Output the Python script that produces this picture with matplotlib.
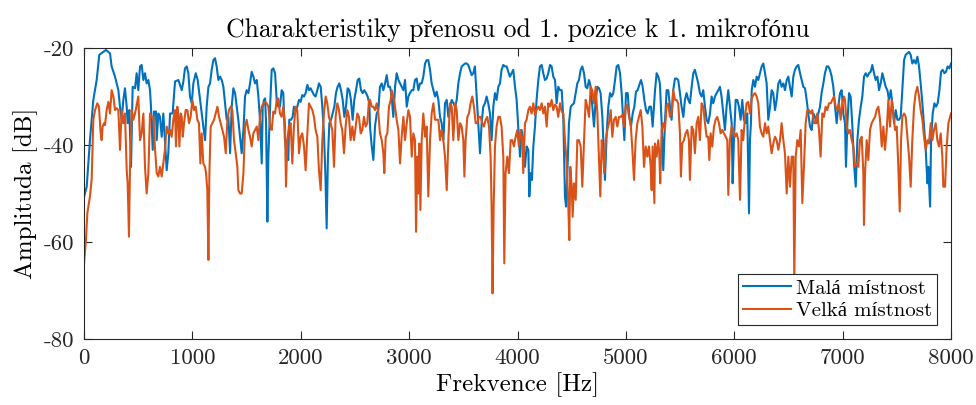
import matplotlib
matplotlib.use("Agg")
import matplotlib.pyplot as plt

# ---- data ----
freq_mala = [
    0, 25, 55, 86, 117, 141, 178, 203, 240, 255, 286, 317, 332, 348, 363, 378, 394, 403, 418, 434,
    449, 471, 486, 501, 517, 532, 548, 563, 578, 594, 609, 618, 634, 646, 664, 671, 686, 701, 717, 732,
    747, 763, 778, 794, 818, 840,
    871, 886, 902, 917, 932, 948, 963, 978, 994, 1009, 1031, 1049, 1071, 1086, 1101, 1117, 1132, 1148,
    1163, 1178, 1194, 1209, 1224, 1240, 1255, 1271, 1286, 1301, 1317, 1332, 1348, 1363, 1378, 1394, 1409,
    1424, 1440, 1455, 1471, 1486, 1501, 1517, 1532, 1547, 1563, 1578, 1594, 1609, 1624, 1640, 1649, 1661,
    1671, 1680, 1692, 1701, 1717, 1732, 1747, 1763,
    1778, 1793, 1808, 1824, 1839, 1854, 1870, 1885, 1894, 1910, 1925, 1937, 1953, 1968, 1984, 1999, 2014,
    2030, 2045, 2061, 2076, 2091, 2107, 2122, 2137, 2153, 2168, 2184, 2199, 2214, 2227, 2239, 2251, 2264,
    2279, 2294, 2310, 2325, 2340, 2356, 2371, 2387, 2402, 2417, 2433, 2448, 2463, 2479, 2494, 2510, 2525,
    2540, 2556, 2571, 2586, 2602, 2617, 2633,
    2639, 2655, 2670, 2685, 2701, 2716, 2731, 2747, 2762, 2778, 2793, 2808, 2824, 2839, 2854, 2870, 2885,
    2901, 2916, 2931, 2947, 2962, 2978, 2993, 3008, 3024, 3039, 3054, 3070, 3085, 3101, 3116, 3131, 3147,
    3162, 3177, 3193, 3208, 3224, 3239, 3254, 3270, 3285, 3300, 3316, 3331, 3347, 3362, 3377, 3393, 3408,
    3424, 3439, 3454, 3470, 3485, 3500, 3516,
    3531, 3546, 3561, 3577, 3592, 3607, 3623, 3638, 3654, 3669, 3684, 3700, 3715, 3730, 3746, 3761, 3777,
    3792, 3807, 3823, 3838, 3853, 3869, 3884, 3900, 3915, 3930, 3946, 3961, 3977, 3992, 4007, 4023, 4038,
    4053, 4069, 4084, 4100, 4109, 4121, 4133, 4146, 4161, 4176, 4192, 4207, 4223, 4238, 4253, 4269, 4284,
    4300, 4315, 4330, 4346, 4361, 4376, 4392,
    4408, 4423, 4438, 4448, 4460, 4475, 4491, 4506, 4521, 4537, 4552, 4567, 4583, 4598, 4614, 4629, 4644,
    4660, 4675, 4690, 4706, 4721, 4737, 4752, 4767, 4783, 4798, 4807, 4823, 4838, 4854, 4869, 4884, 4900,
    4915, 4930, 4946, 4961, 4977, 4986, 5001, 5017, 5032, 5047, 5063, 5078, 5093, 5109, 5124, 5140, 5155,
    5170, 5186, 5201, 5217, 5232, 5247, 5269,
    5284, 5299, 5314, 5330, 5345, 5360, 5376, 5391, 5407, 5422, 5437, 5453, 5468, 5483, 5499, 5514, 5530,
    5545, 5560, 5576, 5591, 5607, 5622, 5637, 5653, 5668, 5683, 5699, 5714, 5730, 5745, 5760, 5776, 5791,
    5806, 5822, 5837, 5853, 5868, 5883, 5899, 5914, 5929, 5945, 5960, 5976, 5985, 5997, 6013, 6028, 6043,
    6059, 6074, 6089, 6105, 6120, 6136, 6145,
    6154, 6161, 6176, 6191, 6207, 6222, 6237, 6253, 6268, 6284, 6299, 6314, 6330, 6345, 6360, 6376, 6391,
    6407, 6422, 6437, 6453, 6468, 6484, 6499, 6514, 6530, 6545, 6560, 6576, 6591, 6607, 6622, 6637, 6653,
    6668, 6683, 6699, 6714, 6730, 6745, 6760, 6776, 6791, 6806, 6822, 6837, 6853, 6868, 6883, 6899, 6914,
    6930, 6945, 6960, 6976, 6991, 7006, 7022,
    7031, 7044, 7059, 7074, 7090, 7105, 7121, 7136, 7151, 7167, 7182, 7197, 7213, 7228, 7244, 7259, 7274,
    7290, 7305, 7321, 7336, 7351, 7367, 7382, 7397, 7413, 7428, 7444, 7459, 7474, 7490, 7505, 7520, 7536,
    7551, 7567, 7582, 7597, 7613, 7628, 7643, 7659, 7674, 7690, 7705, 7720, 7736, 7751, 7767, 7782, 7791,
    7807, 7816, 7831, 7847, 7862, 7877, 7893, 7908, 7923, 7939, 7954, 7969, 7985, 8000,
]
amp_mala = [
    -50.7, -48.6, -39.0, -30.7, -26.6, -21.4, -20.8, -20.4, -21.1, -23.8, -25.9, -28.7, -32.1, -34.8, -30.7, -28.3, -32.1, -35.5, -32.8, -44.5,
    -28.0, -28.3, -25.2, -28.7, -23.8, -23.5, -26.6, -25.2, -27.3, -26.6, -28.7, -32.1, -41.0, -33.1, -33.1, -39.0, -33.5, -34.2, -38.3, -33.5,
    -39.0, -45.2, -41.7, -33.5, -33.5, -26.9,
    -26.6, -27.6, -28.7, -26.9, -24.2, -23.8, -25.2, -30.0, -31.4, -27.3, -25.2, -26.6, -30.7, -33.5, -36.2, -39.0, -32.1, -28.0,
    -27.3, -24.5, -22.5, -22.1, -23.8, -26.6, -25.9, -26.6, -28.0, -31.4, -34.8, -34.2, -41.7, -32.1, -28.3, -29.3, -32.1,
    -34.8, -38.3, -41.7, -36.9, -30.0, -28.7, -29.3, -27.3, -24.9, -25.9, -27.3, -26.6, -30.0, -34.8, -43.8, -32.1, -30.7,
    -30.4, -35.5, -55.8, -42.4, -32.1, -24.5, -24.2, -25.2,
    -30.7, -32.1, -32.1, -28.7, -29.3, -39.0, -41.7, -43.1, -34.8, -34.8, -34.2, -32.1, -32.8, -32.1, -30.7, -31.1, -29.7,
    -30.0, -29.3, -27.6, -28.7, -28.3, -29.0, -29.7, -30.0, -28.7, -27.3, -28.0, -32.1, -37.6, -45.8, -57.2, -42.4, -35.5,
    -34.8, -33.5, -32.1, -29.3, -28.0, -27.3, -28.7, -30.7, -34.2, -32.1, -28.3, -28.7, -30.7, -34.8, -30.7, -28.7, -26.6,
    -26.3, -28.7, -29.3, -28.7, -29.3, -30.0, -31.4,
    -36.2, -40.3, -43.1, -36.2, -33.5, -32.8, -28.0, -27.3, -28.7, -27.3, -25.6, -28.0, -28.0, -30.0, -34.2, -28.0, -25.2,
    -26.6, -27.3, -28.0, -28.7, -26.6, -32.1, -30.0, -29.3, -28.7, -28.7, -26.6, -26.3, -28.7, -27.3, -27.3, -25.9, -23.2,
    -22.5, -22.5, -24.5, -27.3, -28.7, -30.0, -29.0, -30.7, -34.2, -35.5, -39.0, -31.4, -30.7, -34.2, -32.1, -30.7, -31.4,
    -32.1, -30.7, -27.3, -25.2, -23.8, -23.5, -23.2,
    -23.2, -23.5, -24.5, -25.6, -25.2, -23.8, -30.0, -35.5, -41.7, -35.5, -32.1, -31.4, -30.0, -31.4, -33.5, -39.0, -32.1,
    -29.3, -30.7, -28.0, -27.3, -24.5, -23.5, -23.8, -23.8, -24.9, -25.9, -25.2, -24.5, -28.0, -30.7, -36.2, -42.4, -36.9,
    -39.0, -44.5, -40.3, -41.0, -50.6, -45.8, -47.2, -40.3, -36.2, -30.7, -26.6, -23.8, -23.5, -25.2, -26.6, -26.3, -25.2,
    -23.5, -23.8, -25.9, -26.6, -31.4, -28.0, -28.7,
    -28.7, -34.8, -50.6, -52.7, -45.8, -35.5, -32.1, -31.7, -31.4, -29.3, -27.3, -26.6, -24.5, -23.8, -25.2, -28.0, -28.3,
    -26.6, -28.0, -32.1, -36.2, -30.7, -28.0, -28.3, -29.3, -34.2, -42.4, -47.2, -37.6, -32.1, -29.3, -30.0, -29.3, -26.6,
    -23.8, -23.5, -25.2, -29.3, -35.5, -39.0, -29.3, -29.3, -34.2, -36.2, -33.5, -32.1, -29.0, -28.7, -27.6, -26.6, -28.0,
    -30.7, -32.8, -33.5, -32.1, -32.1, -36.2, -28.7,
    -25.2, -25.9, -27.3, -35.5, -45.2, -35.5, -28.7, -28.7, -32.1, -34.8, -28.7, -26.3, -26.3, -26.6, -29.3, -32.1, -34.2,
    -30.7, -29.3, -30.7, -31.4, -28.0, -25.2, -24.5, -25.9, -27.3, -29.3, -30.0, -28.7, -32.1, -34.8, -35.5, -33.5, -30.0,
    -31.4, -30.0, -29.3, -28.7, -28.0, -30.0, -33.5, -36.9, -32.1, -28.7, -32.1, -35.5, -47.9, -39.0, -30.7, -30.7, -32.1,
    -34.8, -30.7, -34.8, -35.5, -33.5, -54.1, -39.0,
    -35.5, -28.7, -26.6, -28.0, -25.9, -26.6, -25.2, -23.8, -23.2, -25.2, -27.3, -34.8, -32.1, -28.7, -29.3, -32.8, -30.7,
    -27.3, -26.6, -28.0, -27.3, -28.7, -26.6, -25.9, -28.0, -30.0, -25.9, -24.5, -23.8, -23.5, -25.2, -26.6, -28.0, -28.3,
    -30.7, -33.5, -36.2, -36.9, -33.5, -34.2, -35.5, -33.5, -32.1, -29.3, -27.3, -25.2, -23.8, -23.8, -24.5, -25.9, -28.0,
    -32.1, -35.5, -32.1, -29.3, -28.7, -33.5, -35.5,
    -44.5, -35.5, -29.3, -30.0, -36.2, -43.8, -48.6, -39.0, -34.8, -32.1, -30.0, -25.9, -25.2, -25.9, -25.2, -24.9, -23.5,
    -25.2, -26.6, -25.9, -28.7, -27.3, -25.2, -26.6, -28.0, -28.7, -30.7, -28.7, -31.4, -35.5, -32.8, -34.8, -34.8, -34.2,
    -28.7, -22.5, -21.4, -21.1, -20.8, -21.4, -23.2, -22.5, -23.2, -21.8, -23.8, -27.3, -31.4, -36.2, -41.0, -47.9, -44.5,
    -52.7, -39.0, -33.5, -31.4, -32.1, -31.4, -28.7, -24.9, -24.5, -25.2, -24.9, -23.8, -24.2, -23.2,
]

freq_velka = [
    0, 18, 31, 55, 71, 86, 102, 123, 138, 154, 163, 172, 185, 194, 209, 225, 240, 255, 271, 286,
    301, 317, 332, 348, 363, 378, 394, 403, 415, 424, 440, 455, 471, 486, 501, 517, 532, 548, 563, 578,
    594, 609, 624, 640, 655, 671, 686, 701, 717, 732, 747, 763, 778, 794, 809, 824,
    840, 849, 861, 871, 880, 892, 902, 911, 923, 938, 954, 969, 984, 1000, 1015, 1031, 1046, 1061, 1074,
    1086, 1101, 1117, 1126, 1138, 1148, 1157, 1169, 1184, 1200, 1215, 1231, 1246, 1261, 1277, 1292, 1308,
    1323, 1338, 1354, 1369, 1384, 1400, 1415, 1424, 1440, 1455, 1471, 1486, 1501, 1517, 1532, 1547, 1563,
    1578, 1594, 1609, 1624, 1640, 1655, 1671, 1686, 1701, 1717, 1732, 1747, 1763,
    1778, 1793, 1808, 1824, 1839, 1854, 1864, 1876, 1891, 1907, 1922, 1937, 1953, 1968, 1984, 1999, 2014,
    2030, 2045, 2061, 2076, 2091, 2107, 2122, 2137, 2153, 2168, 2184, 2199, 2214, 2230, 2245, 2260, 2276,
    2291, 2307, 2322, 2337, 2353, 2368, 2383, 2399, 2414, 2430, 2445, 2460, 2476, 2491, 2507, 2522, 2537,
    2553, 2568, 2583, 2599, 2614, 2630,
    2639, 2655, 2670, 2685, 2701, 2716, 2731, 2747, 2762, 2771, 2784, 2799, 2814, 2830, 2839, 2854, 2870,
    2885, 2901, 2916, 2931, 2947, 2962, 2978, 2993, 3008, 3024, 3039, 3054, 3064, 3076, 3085, 3094, 3104,
    3116, 3131, 3147, 3162, 3177, 3193, 3208, 3224, 3239, 3254, 3270, 3285, 3300, 3316, 3331, 3347, 3362,
    3377, 3393, 3408, 3424, 3439, 3454, 3470, 3485, 3500, 3510,
    3521, 3537, 3552, 3567, 3583, 3598, 3614, 3629, 3644, 3660, 3675, 3690, 3706, 3721, 3737, 3752, 3761,
    3770, 3780, 3792, 3807, 3823, 3838, 3853, 3869, 3878, 3890, 3906, 3921, 3937, 3952, 3967, 3983, 3998,
    4013, 4029, 4044, 4053, 4069, 4084, 4100, 4115, 4130, 4146, 4161, 4176, 4192, 4207, 4223, 4238, 4253,
    4269, 4284, 4300, 4315, 4330, 4346, 4361, 4376, 4392,
    4408, 4423, 4438, 4454, 4469, 4478, 4487, 4500, 4509, 4521, 4537, 4552, 4567, 4583, 4598, 4614, 4629,
    4644, 4660, 4675, 4690, 4706, 4721, 4737, 4752, 4764, 4777, 4792, 4801, 4814, 4829, 4844, 4860, 4875,
    4890, 4906, 4921, 4937, 4952, 4967, 4983, 4998, 5013, 5029, 5044, 5060, 5075, 5090, 5106, 5121, 5137,
    5152, 5167, 5183, 5198, 5213, 5229, 5238, 5247, 5263, 5269,
    5284, 5299, 5308, 5317, 5330, 5345, 5360, 5376, 5391, 5407, 5422, 5437, 5453, 5468, 5483, 5499, 5508,
    5520, 5536, 5551, 5567, 5582, 5591, 5607, 5622, 5637, 5653, 5668, 5683, 5699, 5714, 5730, 5745, 5760,
    5770, 5782, 5797, 5813, 5828, 5843, 5859, 5874, 5890, 5905, 5920, 5936, 5945, 5960, 5976, 5991, 6006,
    6022, 6037, 6053, 6068, 6083, 6099, 6114, 6129, 6145,
    6161, 6176, 6191, 6207, 6222, 6237, 6253, 6268, 6284, 6299, 6314, 6330, 6345, 6360, 6376, 6391, 6407,
    6422, 6437, 6453, 6468, 6484, 6499, 6514, 6530, 6545, 6554, 6567, 6582, 6597, 6613, 6628, 6643, 6659,
    6674, 6690, 6705, 6720, 6736, 6751, 6766, 6782, 6797, 6813, 6828, 6843, 6859, 6874, 6890, 6905, 6920,
    6936, 6951, 6967, 6982, 6997, 7013, 7022,
    7038, 7053, 7068, 7084, 7099, 7114, 7130, 7145, 7160, 7176, 7191, 7197, 7207, 7222, 7237, 7253, 7268,
    7284, 7299, 7314, 7330, 7345, 7361, 7376, 7391, 7407, 7422, 7437, 7453, 7468, 7484, 7499, 7514, 7527,
    7539, 7551, 7567, 7582, 7597, 7613, 7628, 7643, 7659, 7674, 7690, 7705, 7720, 7736, 7751, 7767, 7782,
    7797, 7813, 7828, 7843, 7859, 7874, 7889, 7905, 7920, 7929, 7945, 7960, 7976, 7991, 8000,
]
amp_velka = [
    -64.4, -59.6, -54.0, -50.6, -47.0, -34.8, -32.8, -31.4, -32.1, -37.6, -39.0, -36.2, -35.5, -35.9, -32.8, -31.1, -33.5, -28.7, -30.0, -32.8,
    -32.4, -32.8, -41.0, -32.8, -35.5, -33.5, -45.2, -47.9, -58.9, -45.2, -32.8, -34.8, -33.5, -31.7, -30.0, -39.0, -37.6, -33.5, -44.5, -50.0,
    -45.8, -33.5, -34.2, -34.2, -40.7, -45.8, -46.5, -44.5, -46.5, -43.8, -41.0, -36.2, -37.6, -36.9, -38.3, -34.8,
    -32.8, -40.3, -32.1, -34.2, -40.3, -33.5, -34.2, -38.3, -35.5, -32.8, -32.8, -35.5, -34.2, -30.7, -32.8, -32.1, -34.8, -35.5, -43.8,
    -37.6, -43.8, -44.5, -45.8, -49.3, -63.7, -45.8, -36.2, -35.5, -34.8, -33.5, -32.1, -34.2, -35.5, -36.9, -38.3, -41.7,
    -34.8, -32.8, -32.1, -32.8, -39.0, -41.7, -44.5, -49.3, -50.0, -50.0, -45.8, -36.2, -34.8, -36.9, -38.3, -40.3, -37.6,
    -36.9, -36.2, -39.0, -34.2, -32.1, -31.4, -31.1, -31.4, -32.1, -36.2, -36.9, -33.1, -33.5,
    -30.7, -30.4, -33.5, -34.2, -32.1, -35.5, -48.6, -39.0, -36.2, -35.5, -43.8, -36.2, -32.1, -32.8, -41.7, -38.3, -37.6,
    -40.3, -45.2, -37.6, -31.4, -32.1, -32.8, -34.2, -36.9, -38.3, -45.2, -49.3, -39.0, -33.5, -30.0, -31.4, -34.2, -35.5,
    -36.9, -44.5, -34.2, -31.4, -32.8, -35.5, -36.9, -41.7, -36.2, -32.8, -34.2, -39.0, -36.2, -39.0, -36.2, -33.5, -34.2,
    -37.6, -36.9, -34.2, -36.2, -35.5, -30.7,
    -30.7, -32.1, -32.1, -32.8, -31.4, -33.5, -37.6, -39.0, -41.7, -45.8, -38.3, -37.6, -32.1, -30.7, -28.7, -30.0, -32.1,
    -34.8, -36.9, -43.8, -38.3, -34.2, -39.0, -35.5, -32.8, -34.2, -42.4, -37.6, -39.0, -57.9, -42.4, -50.0, -39.7, -53.4,
    -39.0, -33.5, -38.3, -36.2, -50.6, -39.0, -33.5, -31.4, -34.8, -34.8, -34.8, -39.0, -36.9, -39.0, -42.4, -49.3, -39.0,
    -31.4, -32.1, -39.0, -31.4, -32.8, -39.0, -35.5, -36.2, -39.0, -46.5,
    -39.0, -34.2, -33.5, -31.4, -30.0, -32.1, -35.5, -35.5, -34.2, -34.2, -35.5, -36.2, -34.8, -34.2, -36.2, -42.4, -52.7,
    -70.6, -52.7, -40.3, -36.2, -34.2, -34.2, -36.2, -42.4, -64.4, -45.8, -42.4, -45.8, -39.0, -39.0, -40.3, -38.3, -36.9,
    -40.3, -36.9, -39.0, -45.8, -35.5, -34.8, -32.8, -32.1, -33.5, -31.4, -33.8, -32.8, -32.1, -32.8, -31.4, -33.5, -32.1,
    -36.2, -31.4, -32.1, -30.7, -32.8, -31.7, -32.1, -34.2, -31.4,
    -33.1, -33.5, -39.0, -43.8, -52.7, -59.6, -44.5, -48.6, -54.8, -47.9, -51.3, -39.0, -39.0, -40.3, -48.6, -39.0, -30.7,
    -32.1, -34.2, -28.0, -28.7, -31.4, -28.0, -33.5, -43.1, -50.6, -39.0, -42.4, -45.8, -39.0, -36.9, -35.5, -32.8, -38.3,
    -34.8, -34.2, -36.2, -34.2, -34.2, -33.8, -36.2, -32.1, -31.7, -34.2, -35.5, -41.0, -47.2, -39.0, -35.5, -34.2, -32.8,
    -36.2, -44.5, -40.3, -42.4, -40.3, -44.5, -49.3, -40.3, -52.0, -39.7,
    -42.4, -39.0, -41.7, -47.9, -36.9, -35.5, -36.9, -32.1, -31.4, -34.2, -33.5, -28.7, -30.7, -30.7, -31.4, -37.6, -46.5,
    -39.7, -39.0, -37.6, -36.9, -39.0, -47.2, -36.2, -36.9, -41.7, -35.5, -34.2, -39.0, -31.4, -32.1, -35.5, -38.3, -38.3,
    -43.1, -37.6, -40.3, -36.2, -34.8, -34.2, -35.5, -37.6, -36.9, -37.6, -38.3, -39.0, -50.3, -39.0, -36.2, -36.9, -38.3,
    -37.6, -39.0, -51.3, -36.9, -39.0, -34.2, -31.4, -31.1, -33.5,
    -30.4, -29.7, -29.3, -30.0, -31.4, -36.2, -37.6, -38.3, -35.5, -37.6, -36.2, -39.0, -41.7, -39.7, -38.3, -39.0, -41.0,
    -39.0, -35.5, -39.0, -41.7, -50.0, -42.4, -48.6, -42.4, -42.4, -68.0, -42.4, -39.0, -40.3, -36.9, -52.0, -44.5, -35.5,
    -32.8, -32.8, -33.5, -32.8, -35.5, -35.5, -33.5, -36.9, -42.4, -33.5, -34.2, -32.1, -32.8, -31.4, -31.4, -30.7, -30.0,
    -32.1, -32.8, -31.4, -34.8, -31.4, -30.0, -30.7,
    -36.2, -37.6, -36.9, -39.0, -40.3, -44.5, -43.8, -44.5, -39.0, -38.3, -45.8, -56.5, -45.8, -39.0, -43.1, -36.9, -35.5,
    -34.8, -34.2, -32.8, -32.1, -34.8, -40.3, -36.2, -41.0, -36.9, -30.7, -36.2, -30.7, -33.5, -36.9, -36.2, -44.5, -53.7,
    -39.0, -34.2, -33.5, -34.2, -38.3, -42.4, -48.6, -39.0, -32.1, -29.3, -28.0, -30.0, -32.8, -34.8, -38.3, -41.0, -39.0,
    -39.7, -35.5, -39.0, -36.9, -35.5, -39.0, -40.3, -37.6, -42.4, -48.6, -48.6, -40.3, -35.5, -34.2, -33.5,
]

series_labels = ["Malá místnost", "Velká místnost"]
series_colors = ["#0072BD", "#D95319"]
title_text = "Charakteristiky přenosu od 1. pozice k 1. mikrofónu"
xlabel_text = "Frekvence [Hz]"
ylabel_text = "Amplituda [dB]"
xticks = [0, 1000, 2000, 3000, 4000, 5000, 6000, 7000, 8000]
yticks = [-80, -60, -40, -20]

# ---- styling ----
plt.rcParams["font.family"] = ["cmr10", "Liberation Serif"]
plt.rcParams["axes.unicode_minus"] = False
plt.rcParams["mathtext.fontset"] = "cm"

fig = plt.figure(figsize=(9.76, 4.05), dpi=100)
ax = fig.add_axes([84 / 976, 1 - 339 / 405, (951 - 84) / 976, (339 - 48) / 405])

ax.plot(freq_mala, amp_mala, color=series_colors[0], lw=1.5, label=series_labels[0])
ax.plot(freq_velka, amp_velka, color=series_colors[1], lw=1.5, label=series_labels[1])

ax.set_xlim(0, 8000)
ax.set_ylim(-80, -20)
ax.set_xticks(xticks)
ax.set_yticks(yticks)
ax.set_xticklabels([str(v) for v in xticks])
ax.set_yticklabels([str(v) for v in yticks])
ax.tick_params(direction="in", length=6, width=0.8, top=True, right=True,
               labelsize=16.5, colors="#262626", pad=7)
for s in ax.spines.values():
    s.set_color("#262626")
    s.set_linewidth(0.8)

ax.set_title(title_text, fontsize=18.5, pad=8)
ax.set_xlabel(xlabel_text, fontsize=18, labelpad=3)
ax.set_ylabel(ylabel_text, fontsize=18, labelpad=4)

leg = ax.legend(loc="lower right", fontsize=15, frameon=True, fancybox=False,
                edgecolor="#262626", framealpha=1, borderpad=0.25, handlelength=2.3,
                handletextpad=0.25, labelspacing=0.2, borderaxespad=0.65)
leg.get_frame().set_linewidth(0.8)

fig.savefig("out.png", dpi=100)
